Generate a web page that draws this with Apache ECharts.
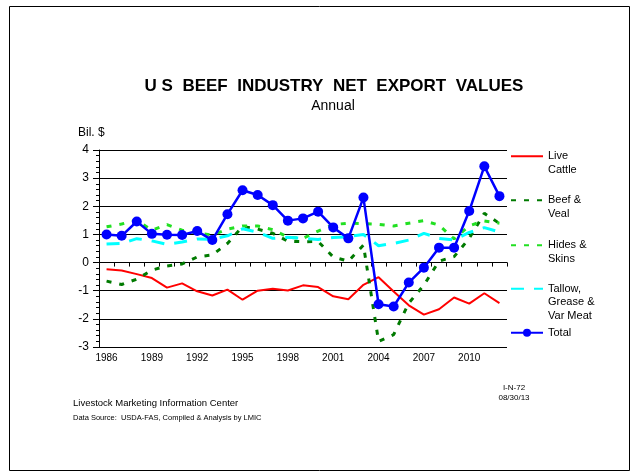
<!DOCTYPE html>
<html>
<head>
<meta charset="utf-8">
<script src="https://cdn.jsdelivr.net/npm/echarts@6/dist/echarts.min.js"></script>
<style>
  html, body { margin: 0; padding: 0; background: #fff; }
  #chart { width: 634px; height: 473px; }
</style>
</head>
<body>
<div id="chart"></div>
<script>
// years on the x axis
var years = [1986, 1987, 1988, 1989, 1990, 1991, 1992, 1993, 1994, 1995, 1996, 1997, 1998, 1999,
    2000, 2001, 2002, 2003, 2004, 2005, 2006, 2007, 2008, 2009, 2010, 2011, 2012];
// net export values, Bil. $
var liveCattle = [-0.24, -0.28, -0.41, -0.55, -0.89, -0.74, -1.02, -1.17, -0.96, -1.32, -1.0, -0.93, -0.99, -0.81,
    -0.87, -1.2, -1.3, -0.79, -0.52, -1.03, -1.52, -1.85, -1.66, -1.24, -1.46, -1.09, -1.44];
var beefVeal = [-0.66, -0.78, -0.59, -0.27, -0.12, -0.05, 0.2, 0.27, 0.68, 1.28, 1.19, 1.04, 0.76, 0.74,
    0.75, 0.2, 0.05, 0.62, -2.8, -2.56, -1.44, -0.8, 0.05, 0.21, 0.86, 1.75, 1.39];
var hidesSkins = [1.27, 1.37, 1.5, 1.15, 1.35, 1.15, 1.05, 0.98, 1.19, 1.3, 1.3, 1.17, 0.9, 0.86,
    1.12, 1.35, 1.4, 1.38, 1.36, 1.3, 1.4, 1.49, 1.33, 0.84, 1.31, 1.48, 1.4];
var tallow = [0.66, 0.68, 0.85, 0.77, 0.65, 0.73, 0.84, 0.83, 0.95, 1.2, 1.08, 0.86, 0.9, 0.86,
    0.82, 0.89, 0.92, 1.0, 0.6, 0.68, 0.8, 1.04, 0.86, 0.8, 1.07, 1.24, 1.09];
var total = [1.0, 0.95, 1.46, 1.02, 0.99, 0.98, 1.12, 0.8, 1.72, 2.57, 2.4, 2.04, 1.49, 1.57,
    1.81, 1.25, 0.86, 2.31, -1.48, -1.56, -0.71, -0.18, 0.53, 0.53, 1.83, 3.42, 2.36];

var FONT = 'Liberation Sans, Arial, sans-serif';
var myChart = echarts.init(document.getElementById('chart'));

// one legend per entry so they can sit at their own heights.
// blank lines are put in front so the first text line lines up with the icon
function legendItem(name, lines, top, showDot) {
    var blank = [];
    for (var i = 1; i < lines.length; i++) blank.push(' ');
    var label = blank.concat(lines).join('\n');
    return {
        data: [name],
        left: 510,
        top: top,
        padding: 0,
        orient: 'vertical',
        itemWidth: 32,
        itemHeight: 10,
        selectedMode: false,
        itemStyle: showDot ? {} : { opacity: 0 },
        formatter: function () { return label; },
        textStyle: { fontFamily: FONT, fontSize: 11, color: '#000', lineHeight: 13.5 }
    };
}

var option = {
    backgroundColor: '#fff',
    animation: false,
    grid: { left: 99, right: 127, top: 150, bottom: 126 },
    xAxis: {
        type: 'category',
        data: years,
        boundaryGap: true,
        axisLine: { lineStyle: { color: '#000', width: 1 } },
        axisTick: { show: true, interval: 0, length: 4, lineStyle: { color: '#000' } },
        axisLabel: { interval: 2, fontFamily: FONT, fontSize: 10, color: '#000', margin: 6 }
    },
    yAxis: {
        type: 'value',
        min: -3,
        max: 4,
        interval: 1,
        axisLine: { show: true, lineStyle: { color: '#000', width: 1 } },
        axisTick: { show: true, length: 6, lineStyle: { color: '#000' } },
        minorTick: { show: true, splitNumber: 5, length: 3, lineStyle: { color: '#000' } },
        splitLine: { show: true, lineStyle: { color: '#000', width: 1 } },
        axisLabel: { fontFamily: FONT, fontSize: 12, color: '#000', margin: 10 }
    },
    legend: [
        legendItem('Live Cattle', ['Live', 'Cattle'], 136, false),
        legendItem('Beef & Veal', ['Beef &', 'Veal'], 180, false),
        legendItem('Hides & Skins', ['Hides &', 'Skins'], 225, false),
        legendItem('Tallow, Grease & Var Meat', ['Tallow,', 'Grease &', 'Var Meat'], 255, false),
        legendItem('Total', ['Total'], 326, true)
    ],
    series: [
        {
            name: 'Live Cattle', type: 'line', data: liveCattle, symbol: 'none',
            lineStyle: { color: '#ff0000', width: 2 }, itemStyle: { color: '#ff0000' }
        },
        {
            name: 'Beef & Veal', type: 'line', data: beefVeal, symbol: 'none',
            lineStyle: { color: '#007a00', width: 3, type: [5, 8] }, itemStyle: { color: '#007a00' }
        },
        {
            name: 'Hides & Skins', type: 'line', data: hidesSkins, symbol: 'none',
            lineStyle: { color: '#22e022', width: 3, type: [5, 8] }, itemStyle: { color: '#22e022' }
        },
        {
            name: 'Tallow, Grease & Var Meat', type: 'line', data: tallow, symbol: 'none',
            lineStyle: { color: '#00ffff', width: 3, type: [13, 10] }, itemStyle: { color: '#00ffff' }
        },
        {
            name: 'Total', type: 'line', data: total, symbol: 'circle', symbolSize: 10,
            lineStyle: { color: '#0000ff', width: 2.5 }, itemStyle: { color: '#0000ff' }
        }
    ],
    graphic: [
        {
            type: 'rect', left: 7, top: 4, silent: true,
            shape: { width: 620, height: 464 },
            style: { fill: 'none', stroke: '#000', lineWidth: 1 }
        },
        {
            type: 'text', x: 334, y: 86,
            style: { text: 'U S  BEEF  INDUSTRY  NET  EXPORT  VALUES', font: 'bold 17px ' + FONT,
                fill: '#000', align: 'center', verticalAlign: 'middle' }
        },
        {
            type: 'text', x: 333, y: 106,
            style: { text: 'Annual', font: '14px ' + FONT, fill: '#000', align: 'center', verticalAlign: 'middle' }
        },
        {
            type: 'text', x: 78, y: 133,
            style: { text: 'Bil. $', font: '12px ' + FONT, fill: '#000', verticalAlign: 'middle' }
        },
        {
            type: 'text', x: 73, y: 403,
            style: { text: 'Livestock Marketing Information Center', font: '9.5px ' + FONT, fill: '#000', verticalAlign: 'middle' }
        },
        {
            type: 'text', x: 73, y: 418,
            style: { text: 'Data Source:  USDA-FAS, Compiled & Analysis by LMIC', font: '7.5px ' + FONT, fill: '#000', verticalAlign: 'middle' }
        },
        {
            type: 'text', x: 514, y: 388,
            style: { text: 'I-N-72', font: '8px ' + FONT, fill: '#000', align: 'center', verticalAlign: 'middle' }
        },
        {
            type: 'text', x: 514, y: 398,
            style: { text: '08/30/13', font: '8px ' + FONT, fill: '#000', align: 'center', verticalAlign: 'middle' }
        }
    ]
};
myChart.setOption(option);
</script>
</body>
</html>
